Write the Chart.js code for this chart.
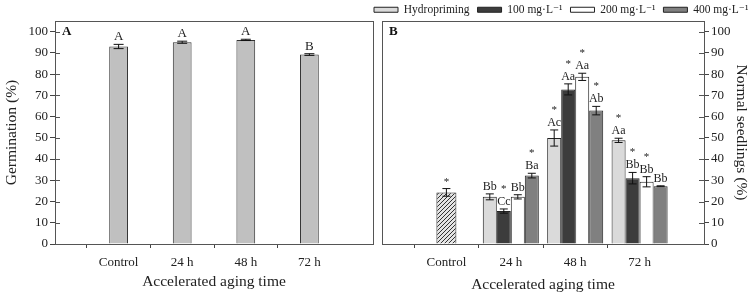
<!DOCTYPE html>
<html>
<head>
<meta charset="utf-8">
<script src="https://cdn.jsdelivr.net/npm/chart.js@4.4.1/dist/chart.umd.min.js"></script>
<style>
  html, body { margin: 0; padding: 0; background: #fff; overflow: hidden; }
  #wrap { position: relative; width: 756px; height: 299px; overflow: hidden; }
  #chartA { position: absolute; left: 0; top: 0; }
  #chartB { position: absolute; left: 300px; top: -4px; }
</style>
</head>
<body>
<div id="wrap">
  <canvas id="chartA" width="380" height="299"></canvas>
  <canvas id="chartB" width="500" height="303"></canvas>
</div>
<script>
// categories (empty slots at both ends keep the same spacing as the original)
const categories = ['', 'Control', '24 h', '48 h', '72 h', ''];
const yTicks = [0, 10, 20, 30, 40, 50, 60, 70, 80, 90, 100];

// panel A - germination
const germination = [null, 93.0, 95.0, 96.1, 89.2, null];
const germinationErr = [0, 1.0, 0.5, 0.3, 0.4, 0];
const germinationLetters = ['', 'A', 'A', 'A', 'B', ''];

// panel B - normal seedlings
const seriesNames = ['Hydropriming', '100 mg·L⁻¹', '200 mg·L⁻¹', '400 mg·L⁻¹'];
const control = [null, 24.3, null, null, null, null];
const controlErr = [0, 1.8, 0, 0, 0, 0];
const controlStars = [false, true, false, false, false, false];

const hydro = [null, null, 22.2, 49.9, 48.8, null];
const hydroErr = [0, 0, 1.4, 3.8, 1.0, 0];
const hydroLetters = ['', '', 'Bb', 'Ac', 'Aa', ''];
const hydroStars = [false, false, false, true, true, false];

const mg100 = [null, null, 15.5, 72.8, 31.0, null];
const mg100Err = [0, 0, 1.0, 2.6, 2.7, 0];
const mg100Letters = ['', '', 'Cc', 'Aa', 'Bb', ''];
const mg100Stars = [false, false, true, true, true, false];

const mg200 = [null, null, 22.2, 78.7, 29.3, null];
const mg200Err = [0, 0, 1.0, 1.7, 2.4, 0];
const mg200Letters = ['', '', 'Bb', 'Aa', 'Bb', ''];
const mg200Stars = [false, false, false, true, true, false];

const mg400 = [null, null, 32.2, 62.8, 27.2, null];
const mg400Err = [0, 0, 1.1, 2.0, 0.2, 0];
const mg400Letters = ['', '', 'Ba', 'Ab', 'Bb', ''];
const mg400Stars = [false, false, true, true, false, false];

Chart.defaults.font.family = "'Liberation Serif', 'DejaVu Serif', serif";
Chart.defaults.color = '#222';

// hatch for the control bar
function hatch() {
  const c = document.createElement('canvas');
  c.width = 4; c.height = 4;
  const g = c.getContext('2d');
  g.fillStyle = '#e4e4e4';
  g.fillRect(0, 0, 4, 4);
  g.strokeStyle = '#333';
  g.lineWidth = 1;
  g.beginPath();
  g.moveTo(0, 4); g.lineTo(4, 0);
  g.moveTo(-1, 1); g.lineTo(1, -1);
  g.moveTo(3, 5); g.lineTo(5, 3);
  g.stroke();
  return g.createPattern(c, 'repeat');
}

// frame, inner ticks, error bars, letters
const decor = {
  id: 'decor',
  afterDatasetsDraw(chart, args, o) {
    const ctx = chart.ctx;
    const a = chart.chartArea;
    const y = chart.scales.y;
    ctx.save();
    // error bars + labels
    chart.data.datasets.forEach((ds, di) => {
      const meta = chart.getDatasetMeta(di);
      meta.data.forEach((bar, i) => {
        const v = ds.data[i];
        if (v == null) return;
        const e = ds.err[i];
        const top = y.getPixelForValue(v + e);
        const bot = y.getPixelForValue(v - e);
        ctx.strokeStyle = '#111';
        ctx.lineWidth = 1;
        ctx.beginPath();
        ctx.moveTo(bar.x, top); ctx.lineTo(bar.x, bot);
        ctx.moveTo(bar.x - o.cap, top); ctx.lineTo(bar.x + o.cap, top);
        ctx.moveTo(bar.x - o.cap, bot); ctx.lineTo(bar.x + o.cap, bot);
        ctx.stroke();
        ctx.fillStyle = '#222';
        ctx.textAlign = 'center';
        ctx.textBaseline = 'alphabetic';
        let ty = top - 4;
        const lt = ds.letters ? ds.letters[i] : '';
        if (lt) {
          ctx.font = o.letterSize + "px 'Liberation Serif', serif";
          ctx.fillText(lt, bar.x, ty);
          ty -= 13;
        }
        if (ds.stars && ds.stars[i]) {
          ctx.font = "11px 'Liberation Serif', serif";
          ctx.fillText('*', bar.x, ty);
        }
      });
    });
    // box
    ctx.strokeStyle = '#555';
    ctx.lineWidth = 1;
    ctx.strokeRect(Math.round(a.left) + 0.5, Math.round(a.top) + 0.5,
      Math.round(a.right - a.left), Math.round(a.bottom - a.top));
    // inner ticks on the value axis
    ctx.beginPath();
    yTicks.forEach(t => {
      const py = Math.round(y.getPixelForValue(t)) + 0.5;
      if (o.side === 'left') { ctx.moveTo(a.left, py); ctx.lineTo(a.left + 5, py); }
      else { ctx.moveTo(a.right - 5, py); ctx.lineTo(a.right, py); }
    });
    ctx.stroke();
    // panel letter
    ctx.font = "bold 13px 'Liberation Serif', serif";
    ctx.textAlign = 'left';
    ctx.fillStyle = '#111';
    ctx.fillText(o.panel, a.left + 7, a.top + 14);
    ctx.restore();
  }
};

const tickColor = c => (c.index === 0 || c.index === 5) ? 'rgba(0,0,0,0)' : '#444';

function xAxis(titlePad) {
  return {
    type: 'category',
    offset: false,
    grid: { drawOnChartArea: false, tickLength: 4, tickColor: tickColor },
    border: { color: '#444' },
    ticks: { font: { size: 13 }, padding: 7, maxRotation: 0, autoSkip: false },
    title: { display: true, text: 'Accelerated aging time', font: { size: 15.5 }, padding: { top: 0, bottom: titlePad } },
    afterFit: s => { s.height = 55; }
  };
}

function yAxis(pos, title, w, pad) {
  return {
    position: pos,
    min: 0, max: 105,
    afterBuildTicks: s => { s.ticks = yTicks.map(v => ({ value: v })); },
    grid: { drawOnChartArea: false, tickLength: 5, tickColor: '#444' },
    border: { color: '#444' },
    ticks: { font: { size: 13 }, padding: 2 },
    title: { display: true, text: title, font: { size: 15.5 }, padding: { top: pad, bottom: 0 } },
    afterFit: s => { s.width = w; }
  };
}

new Chart(document.getElementById('chartA'), {
  type: 'bar',
  data: {
    labels: categories,
    datasets: [{
      data: germination,
      err: germinationErr,
      letters: germinationLetters,
      backgroundColor: '#c0c0c0',
      borderColor: '#333',
      borderWidth: 1,
      categoryPercentage: 1,
      barPercentage: 0.295
    }]
  },
  options: {
    responsive: false,
    animation: false,
    layout: { padding: { top: 21, right: 4, left: 0, bottom: 0 } },
    plugins: {
      legend: { display: false },
      tooltip: { enabled: false },
      decor: { panel: 'A', side: 'left', cap: 5, letterSize: 13 }
    },
    scales: {
      x: xAxis(8),
      y: yAxis('left', 'Germination (%)', 55, 3)
    }
  },
  plugins: [decor]
});

new Chart(document.getElementById('chartB'), {
  type: 'bar',
  data: {
    labels: categories,
    datasets: [
      { label: 'Control', data: control, err: controlErr, stars: controlStars,
        backgroundColor: hatch(), barPercentage: 0.357 },
      { label: seriesNames[0], data: hydro, err: hydroErr, letters: hydroLetters, stars: hydroStars,
        backgroundColor: '#dadada' },
      { label: seriesNames[1], data: mg100, err: mg100Err, letters: mg100Letters, stars: mg100Stars,
        backgroundColor: '#3c3c3c' },
      { label: seriesNames[2], data: mg200, err: mg200Err, letters: mg200Letters, stars: mg200Stars,
        backgroundColor: '#ffffff' },
      { label: seriesNames[3], data: mg400, err: mg400Err, letters: mg400Letters, stars: mg400Stars,
        backgroundColor: '#808080' }
    ]
  },
  options: {
    responsive: false,
    animation: false,
    layout: { padding: { left: 66, top: 0, right: 0, bottom: 0 } },
    datasets: {
      bar: { xAxisID: 'x', yAxisID: 'y', skipNull: true, categoryPercentage: 0.87, barPercentage: 1,
             borderColor: '#222', borderWidth: 1 }
    },
    plugins: {
      legend: {
        align: 'start',
        maxHeight: 25,
        labels: {
          boxWidth: 24, boxHeight: 5, padding: 8,
          font: { size: 11.5 },
          filter: item => item.datasetIndex > 0
        }
      },
      tooltip: { enabled: false },
      decor: { panel: 'B', side: 'right', cap: 4, letterSize: 12 }
    },
    scales: {
      x: xAxis(4.5),
      y: yAxis('right', 'Normal seedlings (%)', 96, 49.7),
      xt: {
        type: 'category', position: 'top', display: true,
        grid: { display: false }, border: { display: false }, ticks: { display: false },
        afterFit: s => { s.height = Math.max(0, 25 - s.chart.legend.height); }
      },
      yl: {
        type: 'linear', position: 'left', display: true,
        grid: { display: false }, border: { display: false }, ticks: { display: false },
        afterFit: s => { s.width = 16; }
      }
    }
  },
  plugins: [decor]
});
</script>
</body>
</html>
